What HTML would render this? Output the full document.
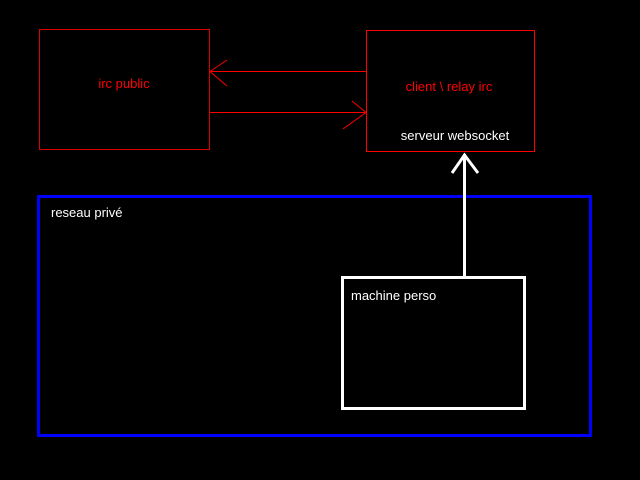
<!DOCTYPE html>
<html><head><style>body{margin:0;background:#000}</style></head><body>
<svg width="640" height="480" xmlns="http://www.w3.org/2000/svg" style="display:block;font-family:'Liberation Sans',sans-serif;font-size:13px">
<rect width="640" height="480" fill="#000"/>
<rect x="39.5" y="29.5" width="170" height="120" fill="none" stroke="#d00" stroke-width="1"/>
<text x="124" y="88" fill="#f00" text-anchor="middle">irc public</text>
<rect x="366.5" y="30.5" width="168" height="121" fill="none" stroke="#f00" stroke-width="1"/>
<text x="449" y="91" fill="#f00" text-anchor="middle">client \ relay irc</text>
<text x="455" y="140" fill="#fff" text-anchor="middle">serveur websocket</text>
<g stroke="#f00" stroke-width="1" fill="none">
<line x1="210" y1="71.5" x2="366" y2="71.5"/>
<polyline points="227,60 210,71.5 227,86"/>
<line x1="210" y1="112.5" x2="366" y2="112.5"/>
<polyline points="352,101 366,112.5 343,129"/>
</g>
<rect x="38.5" y="196.5" width="552" height="239" fill="none" stroke="#00f" stroke-width="3"/>
<text x="51" y="217" fill="#fff">reseau privé</text>
<rect x="342.5" y="277.5" width="182" height="131" fill="none" stroke="#fff" stroke-width="3"/>
<text x="351" y="300" fill="#fff">machine perso</text>
<g stroke="#fff" stroke-width="3" fill="none">
<line x1="464.5" y1="276" x2="464.5" y2="154"/>
<polyline points="452,173 464.5,155 478,173"/>
</g>
</svg>
</body></html>
